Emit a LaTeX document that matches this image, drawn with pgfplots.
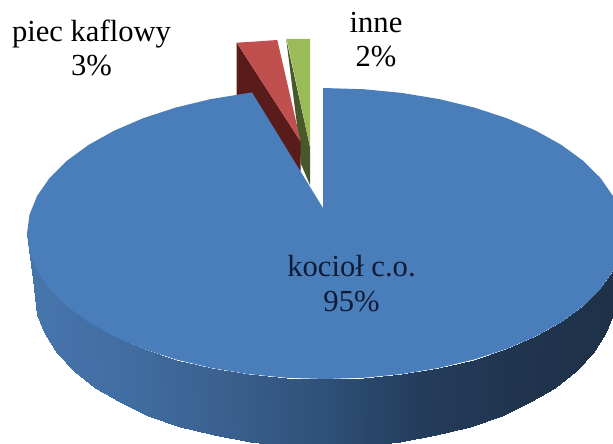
\documentclass[border=0pt]{standalone}
\usepackage{fontspec}
\setmainfont{Liberation Serif}
\usepackage{pgfplots}
\pgfplotsset{compat=1.18}
\definecolor{blue1}{HTML}{4A7EBB}
\definecolor{red1}{HTML}{C0504D}
\definecolor{red2}{HTML}{5A1C1A}
\definecolor{green1}{HTML}{9BBB59}
\definecolor{green2}{HTML}{47582A}
\definecolor{ink}{HTML}{0F1B36}

% side wall of the big slice: upper edge, then lower edge (image pixels)
\pgfplotstableread{
x y c
27 233.5 27
29.55 252.49 29.5
37.15 271.16 37
49.68 289.18 49.5
66.92 306.25 66.5
88.58 322.07 88
114.28 336.38 113.4
143.59 348.93 142.4
176 359.5 174.5
210.96 367.92 209.1
247.87 374.04 245.6
286.1 377.75 283.5
325 379 322
363.9 377.75 360.5
402.13 374.04 398.4
439.04 367.92 434.9
474 359.5 469.5
506.41 348.93 501.6
535.72 336.38 530.6
561.42 322.07 556
583.08 306.25 577.5
600.32 289.18 594.5
612.85 271.16 607
620.45 252.49 614.5
623 233.5 617
35 295 27
37.48 314.84 29.5
44.88 334.34 37
57.07 353.17 49.5
73.85 371 66.5
94.93 387.53 88
119.94 402.48 113.4
148.46 415.59 142.4
180 426.64 174.5
214.02 435.43 209.1
249.94 441.82 245.6
287.15 445.7 283.5
325 447 322
362.85 445.7 360.5
400.06 441.82 398.4
435.98 435.43 434.9
470 426.64 469.5
501.54 415.59 501.6
530.06 402.48 530.6
555.07 387.53 556
576.15 371 577.5
592.93 353.17 594.5
605.12 334.34 607
612.52 314.84 614.5
615 295 617
}\wall

\begin{document}
\begin{tikzpicture}
\useasboundingbox (0,0) rectangle (10cm,7.2268cm);
\begin{axis}[
    at={(0,0)}, anchor=south west,
    scale only axis,
    width=10cm, height=7.2268cm,
    xmin=0, xmax=613,
    ymin=0, ymax=443,
    y dir=reverse,
    axis lines=none,
    colormap={wallmap}{rgb255=(70,117,173) rgb255=(65,109,161) rgb255=(58,96,142)
        rgb255=(47,80,120) rgb255=(36,60,90) rgb255=(32,52,78) rgb255=(30,49,72)},
    point meta min=27, point meta max=617,
]
  % green slice
  \addplot[fill=green2, draw=none] coordinates {
    (286.2,39) (310,147) (310,185) (301,164) (298.5,137) } -- cycle;
  \addplot[fill=green1, draw=none] coordinates {
    (286.7,39) (310,39) (310,147) } -- cycle;
  % red slice
  \addplot[fill=red2, draw=none] coordinates {
    (236.7,42.7) (300.7,141.7) (300.7,172) (252,100) (236.7,100) } -- cycle;
  \addplot[fill=red1, draw=none] coordinates {
    (236.7,42.7) (256,41.5) (277.3,40) (300.7,141.7) } -- cycle;
  % blue slice, wall then top
  \addplot[surf, shader=interp, mesh/rows=2, point meta=explicit] table[x=x, y=y, meta=c] {\wall};
  \addplot[fill=blue1, draw=none] coordinates {
    (323,208) (323,88) (363.9,89.25) (402.13,92.96) (439.04,99.08) (474,107.5)
    (506.41,118.07) (535.72,130.62) (561.42,144.93) (583.08,160.75) (600.32,177.82)
    (612.85,195.84) (620.45,214.51) (623,233.5) (620.45,252.49) (612.85,271.16) (600.32,289.18)
    (583.08,306.25) (561.42,322.07) (535.72,336.38) (506.41,348.93) (474,359.5)
    (439.04,367.92) (402.13,374.04) (363.9,377.75) (325,379) (286.1,377.75)
    (247.87,374.04) (210.96,367.92) (176,359.5) (143.59,348.93) (114.28,336.38)
    (88.58,322.07) (66.92,306.25) (49.68,289.18) (37.15,271.16) (29.55,252.49) (27,233.5)
    (29.55,214.51) (37.15,195.84) (49.68,177.82) (66.92,160.75) (88.58,144.93) (114.28,130.62)
    (143.59,118.07) (176,107.5) (210.96,99.08) (252,92.4) } -- cycle;

  \node[align=center, font=\fontsize{14.2}{16}\selectfont, black] at (axis cs:91.5,48) {piec kaflowy\\3\%};
  \node[align=center, font=\fontsize{14.2}{16}\selectfont, black] at (axis cs:376,39.5) {inne\\2\%};
  \node[align=center, font=\fontsize{14.2}{16}\selectfont, text=ink] at (axis cs:351.5,283.5) {kocioł c.o.\\95\%};
\end{axis}
\end{tikzpicture}
\end{document}
